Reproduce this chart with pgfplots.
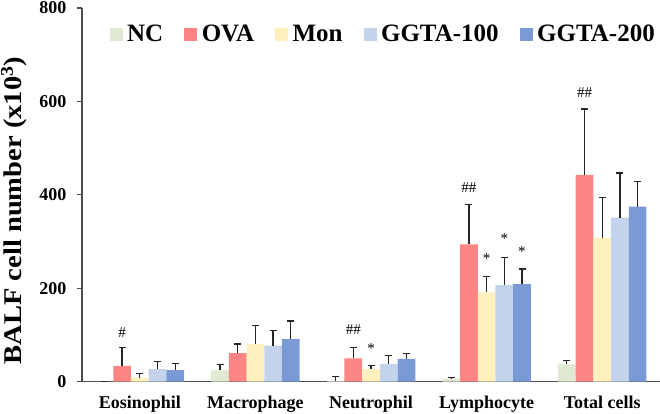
\documentclass[border=0pt]{standalone}
\usepackage{fontspec}
\setmainfont{Liberation Serif}
\newfontfamily\ylabfont[FakeStretch=1.12]{Liberation Serif}
\usepackage{pgfplots}
\pgfplotsset{compat=1.18}
\usetikzlibrary{calc}
\definecolor{cNC}{HTML}{DFE9D3}
\definecolor{cOVA}{HTML}{FF8585}
\definecolor{cMon}{HTML}{FFF0BD}
\definecolor{cGa}{HTML}{C4D3EC}
\definecolor{cGb}{HTML}{7A9AD6}
\definecolor{axgray}{HTML}{4D4D4D}
\pgfplotsset{
  sq/.style={fill=#1, draw=none,
    legend image code/.code={\fill[#1] (0bp,-6.5bp) rectangle (13bp,6.5bp);}},
}
\begin{document}
\begin{tikzpicture}
\begin{axis}[name=ax, scale only axis, width=578bp, height=373.7bp,
  ybar=0pt, bar width=17.7bp,
  xmin=-0.5, xmax=4.5, ymin=0, ymax=800,
  xtick={0,1,2,3,4},
  xticklabels={Eosinophil,Macrophage,Neutrophil,Lymphocyte,Total cells},
  ytick={0,200,400,600,800},
  axis x line*=bottom, axis y line*=left,
  axis line style={axgray, line width=1.5bp, -},
  x tick style={draw=none},
  y tick style={axgray, line width=1.2bp},
  tick align=outside, major tick length=5bp,
  /pgf/number format/assume math mode=true,
  tick label style={font=\fontsize{18bp}{20bp}\selectfont\bfseries},
  xticklabel style={yshift=-6bp},
  yticklabel style={xshift=-7bp},
  ylabel={BALF cell number (x10\textsuperscript{3})},
  ylabel style={font=\ylabfont\fontsize{25.5bp}{28bp}\selectfont\bfseries,
    at={(axis description cs:-0.1175,0.458)}, anchor=center},
  legend columns=5,
  legend style={draw=none, fill=none, inner sep=0pt,
    at={(axis description cs:0.9913,0.930)}, anchor=east,
    font=\fontsize{25bp}{27bp}\selectfont\bfseries,
    nodes={inner sep=0pt},
    /tikz/every odd column/.append style={column sep=4.5bp},
    /tikz/every even column/.append style={column sep=21bp}},
  error bars/y dir=plus, error bars/y explicit,
  error bars/error mark options={rotate=90, mark size=3.5bp, line width=1.3bp, black!85},
  error bars/error bar style={line width=1.3bp, black!85},
]
\addplot[sq=cNC] coordinates {(0,0) +- (0,0) (1,24) +- (0,13) (2,1) +- (0,10) (3,7) +- (0,2) (4,37) +- (0,9)};
\addplot[sq=cOVA] coordinates {(0,34) +- (0,39) (1,61) +- (0,20) (2,50) +- (0,23) (3,294) +- (0,86) (4,443) +- (0,141)};
\addplot[sq=cMon] coordinates {(0,9) +- (0,8) (1,81) +- (0,39) (2,27) +- (0,8) (3,191) +- (0,34) (4,308) +- (0,87)};
\addplot[sq=cGa] coordinates {(0,27) +- (0,16) (1,77) +- (0,32) (2,38) +- (0,18) (3,207) +- (0,59) (4,351) +- (0,96)};
\addplot[sq=cGb] coordinates {(0,25) +- (0,14) (1,91) +- (0,39) (2,49) +- (0,11) (3,209) +- (0,32) (4,375) +- (0,53)};
\legend{NC,OVA,Mon,GGTA-100,GGTA-200}
\begin{scope}[every node/.style={font=\fontsize{15bp}{17bp}\selectfont, anchor=base, inner sep=0pt}]
\node at (axis cs:-0.153,95) {\#};
\node at (axis cs:1.847,100) {\#\#};
\node at (axis cs:2,60) {*};
\node at (axis cs:2.847,406) {\#\#};
\node at (axis cs:3,252) {*};
\node at (axis cs:3.153,296) {*};
\node at (axis cs:3.306,268) {*};
\node at (axis cs:3.847,608) {\#\#};
\end{scope}
\end{axis}
\pgfresetboundingbox
\path[use as bounding box] ($(ax.south west)+(-82bp,-31.3bp)$) rectangle ($(ax.north east)+(0bp,8bp)$);
\end{tikzpicture}
\end{document}
